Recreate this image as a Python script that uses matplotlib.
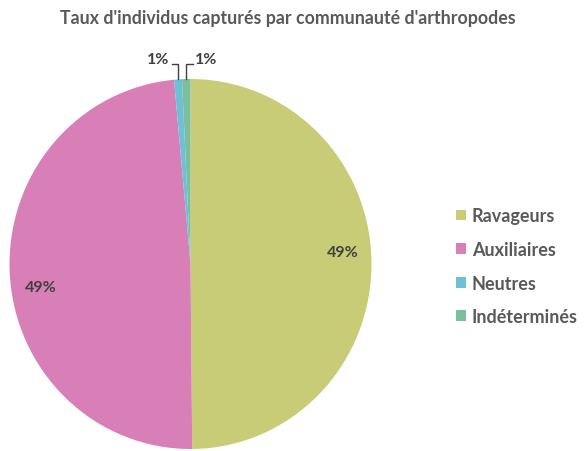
import numpy as np
import matplotlib.pyplot as plt

# data
categories = ['Ravageurs', 'Auxiliaires', 'Neutres', 'Indéterminés']
shares = [49.85, 48.7, 0.7, 0.75]
pct_labels = ['49%', '49%', '1%', '1%']
colors = ['#c9cc76', '#d77fb6', '#6ec0d8', '#7cbf9c']

plt.rcParams['font.family'] = ['Lato', 'DejaVu Sans']
text_grey = '#595959'
label_grey = '#404040'

fig = plt.figure(figsize=(5.85, 4.52), dpi=100)
ax = fig.add_axes([9.5 / 585, 2 / 452, 362 / 585, 370 / 452])

wedges, _ = ax.pie(shares, colors=colors, startangle=90, counterclock=False,
                   radius=1, wedgeprops=dict(linewidth=0))
ax.set_aspect('auto')
ax.set_xlim(-1, 1)
ax.set_ylim(-1, 1)

# big slices: labels inside
ax.text(0.84, 0.065, pct_labels[0], ha='center', va='center',
        color=label_grey, fontsize=11.5, fontweight='bold')
ax.text(-0.83, -0.125, pct_labels[1], ha='center', va='center',
        color=label_grey, fontsize=11.5, fontweight='bold')

# small slices: labels outside with elbow leader lines
for i, side in [(2, -1), (3, 1)]:
    w = wedges[i]
    mid = np.deg2rad((w.theta1 + w.theta2) / 2)
    x0, y0 = np.cos(mid), np.sin(mid)
    ytop = 1.08
    x1 = x0 + side * 0.035
    ax.plot([x0, x0, x1], [y0, ytop, ytop], color=label_grey, lw=1, clip_on=False)
    ax.text(x1 + side * 0.015, ytop + 0.03, pct_labels[i],
            ha='right' if side < 0 else 'left', va='center',
            color=label_grey, fontsize=11.5, fontweight='bold')

fig.text(0.492, 0.958, "Taux d'individus capturés par communauté d'arthropodes",
         ha='center', va='center', fontsize=12.8, fontweight='bold', color=text_grey)

leg = fig.legend(wedges, categories, loc='upper left', bbox_to_anchor=(0.751, 0.575),
                 frameon=False, handlelength=0.55, handleheight=0.55, handletextpad=0.35,
                 labelspacing=0.92, prop=dict(size=13, weight='bold'))
for t in leg.get_texts():
    t.set_color(text_grey)

fig.savefig('out.png', dpi=100)
